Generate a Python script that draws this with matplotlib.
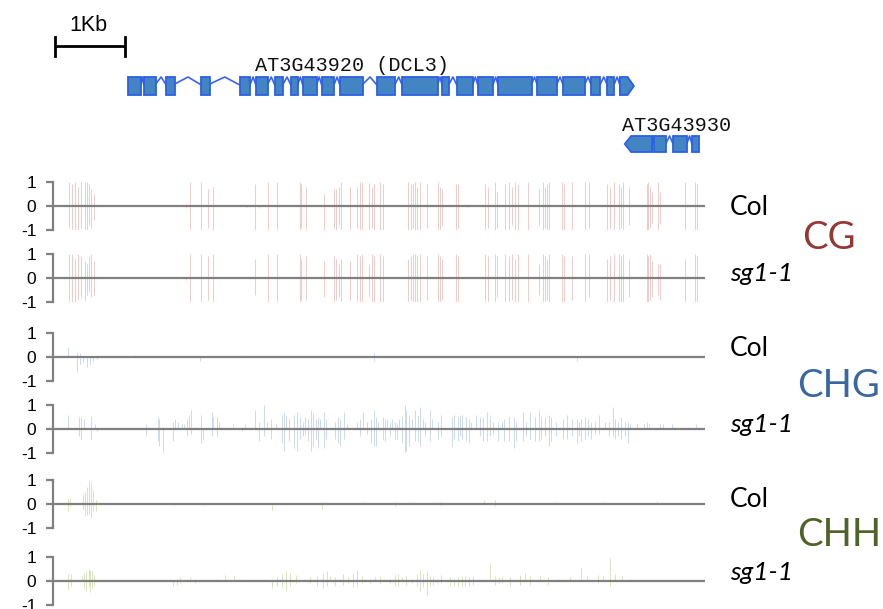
import matplotlib
matplotlib.use("Agg")
import matplotlib.pyplot as plt
from matplotlib.patches import Polygon

plt.rcParams["font.family"] = ["Liberation Sans", "DejaVu Sans"]

W, H = 883, 609
PX_PER_KB = 70.0

# ---- gene models (kb from left edge of the tracks) ----
DCL3_EXONS = [(1.04, 1.23), (1.27, 1.44), (1.59, 1.71), (2.09, 2.21), (2.64, 2.79),
              (2.87, 3.04), (3.14, 3.26), (3.37, 3.47), (3.54, 3.74), (3.81, 3.99),
              (4.07, 4.40), (4.60, 4.86), (4.96, 5.47), (5.53, 5.63), (5.74, 5.97),
              (6.04, 6.26), (6.33, 6.81), (6.89, 7.17), (7.26, 7.57), (7.66, 7.79),
              (7.89, 7.99), (8.07, 8.27)]
AT930_EXONS = [(8.14, 8.53), (8.56, 8.73), (8.83, 9.03), (9.10, 9.20)]

# ---- CG sites (kb) shared by both CG tracks ----
CG_SITES = [0.20, 0.24, 0.29, 0.33, 0.37, 0.43, 0.46, 0.49, 0.52, 0.55,
            0.98, 1.55,
            1.87, 1.93, 2.09, 2.18, 2.25,
            2.74, 2.86, 2.91, 3.04, 3.17,
            3.50, 3.52, 3.58, 3.84, 3.98, 4.01, 4.06, 4.08, 4.21, 4.32, 4.36, 4.39,
            4.49, 4.53, 4.56, 4.64, 4.68, 4.75,
            5.04, 5.08, 5.11, 5.14, 5.17, 5.22, 5.31, 5.47, 5.50, 5.53, 5.73, 5.76, 5.88,
            6.14, 6.18, 6.29, 6.32, 6.43, 6.49, 6.53, 6.57, 6.61, 6.75, 6.91, 6.97,
            7.00, 7.03, 7.06,
            7.24, 7.27, 7.39, 7.57, 7.63, 7.88, 7.93, 7.99, 8.05, 8.09, 8.11, 8.20,
            8.45, 8.47, 8.50, 8.53, 8.62, 8.64, 9.00, 9.14, 9.17]
CG_COL_UP = [1.0, 0.9, 1.0, 0.8, 1.0, 1.0, 1.0, 0.9, 0.7, 0.5,
             0.0, 0.0,
             0.1, 1.0, 1.0, 0.7, 0.8,
             0.05, 0.9, 0.0, 1.0, 1.0,
             1.0, 0.9, 0.8, 0.5, 0.7, 0.7, 0.8, 1.0, 0.8, 0.8, 1.0, 1.0,
             0.95, 0.8, 0.9, 1.0, 0.9, 0.05,
             1.0, 0.9, 0.9, 1.0, 0.8, 1.0, 0.9, 1.0, 0.8, 0.7, 0.9, 0.9, 0.05,
             0.9, 0.8, 1.0, 0.6, 0.9, 1.0, 0.8, 1.0, 0.9, 1.0, 0.7, 1.0,
             0.8, 0.9, 1.0,
             1.0, 0.9, 1.0, 1.0, 1.0, 0.9, 0.8, 1.0, 0.9, 0.8, 1.0, 0.8,
             0.9, 1.0, 0.8, 0.6, 1.0, 0.6, 1.0, 1.0, 0.9]
CG_COL_DOWN = [-0.9, -1.0, -1.0, -1.0, -0.9, -1.0, -1.0, -0.8, -0.9, -0.6,
               0.0, 0.0,
               -0.1, -1.0, -1.0, -0.9, -1.0,
               -0.05, -1.0, -0.1, -1.0, -1.0,
               -1.0, -0.9, -1.0, -1.0, -0.9, -1.0, -0.8, -1.0, -1.0, -0.9, -1.0, -1.0,
               -1.0, -0.9, -1.0, -1.0, -1.0, 0.0,
               -1.0, -1.0, -0.9, -1.0, -1.0, -1.0, -0.9, -1.0, -1.0, -0.8, -1.0, -0.9, -0.05,
               -1.0, -0.9, -1.0, -0.9, -1.0, -1.0, -0.8, -1.0, -1.0, -1.0, -0.8, -1.0,
               -0.9, -1.0, -1.0,
               -1.0, -1.0, -1.0, -1.0, -0.9, -1.0, -0.9, -1.0, -1.0, -0.9, -1.0, -0.8,
               -1.0, -1.0, -0.9, -0.7, -1.0, -0.7, -1.0, -1.0, -1.0]
CG_SG_UP = [1.0, 1.0, 0.8, 1.0, 0.9, 0.7, 0.6, 0.9, 1.0, 0.7,
            0.03, 0.05,
            0.0, 1.0, 1.0, 0.9, 1.0,
            0.0, 0.8, 0.0, 1.0, 1.0,
            1.0, 0.8, 0.9, 0.7, 0.9, 0.8, 0.6, 0.8, 0.7, 1.0, 0.9, 1.0,
            0.6, 1.0, 0.9, 1.0, 0.9, 0.0,
            0.8, 0.9, 1.0, 1.0, 0.9, 1.0, 0.9, 1.0, 0.9, 0.8, 1.0, 0.9, 0.0,
            1.0, 0.9, 1.0, 0.9, 1.0, 0.9, 1.0, 0.8, 1.0, 1.0, 0.6, 1.0,
            0.9, 0.8, 1.0,
            1.0, 0.9, 0.9, 1.0, 1.0, 0.8, 0.9, 1.0, 1.0, 0.9, 1.0, 0.8,
            1.0, 0.9, 1.0, 0.7, 0.6, 0.6, 0.8, 1.0, 0.9]
CG_SG_DOWN = [-1.0, -1.0, -1.0, -0.9, -0.8, -0.9, -0.7, -0.6, -0.8, -0.7,
              0.0, 0.0,
              -0.1, -1.0, -1.0, -0.9, -1.0,
              0.0, -0.7, 0.0, -1.0, -1.0,
              -1.0, -0.9, -0.9, -0.8, -1.0, -0.9, -0.8, -1.0, -0.9, -1.0, -1.0, -1.0,
              -0.8, -1.0, -1.0, -1.0, -1.0, 0.0,
              -1.0, -0.9, -1.0, -1.0, -1.0, -1.0, -0.9, -1.0, -1.0, -0.9, -1.0, -1.0, 0.0,
              -1.0, -1.0, -1.0, -0.8, -1.0, -1.0, -0.9, -1.0, -1.0, -1.0, -0.7, -1.0,
              -1.0, -0.9, -1.0,
              -1.0, -1.0, -0.9, -1.0, -0.8, -1.0, -0.9, -1.0, -1.0, -1.0, -1.0, -0.8,
              -1.0, -1.0, -0.9, -0.8, -0.7, -0.9, -1.0, -1.0, -1.0]

# ---- CHG ----
CHG_COL_POS = [0.19, 0.32, 0.36, 0.40, 0.46, 0.50, 0.54, 0.60, 0.81, 1.14, 1.18,
               2.07, 2.68, 3.97, 4.55, 6.57, 6.88, 7.45, 8.29]
CHG_COL_UP = [0.42, 0.2, 0.18, 0.0, 0.05, 0.0, 0.0, 0.0, 0.05, 0.1, 0.05,
              0.0, 0.08, 0.05, 0.15, 0.04, 0.06, 0.0, 0.06]
CHG_COL_DOWN = [0.0, -0.62, -0.28, -0.2, -0.42, -0.28, -0.17, -0.1, 0.0, 0.0, 0.0,
                -0.15, -0.05, 0.0, -0.15, 0.0, 0.0, -0.15, 0.0]

CHG_SG_POS = [0.19, 0.34, 0.37, 0.41, 0.52, 0.57, 0.60,
              1.30, 1.32, 1.47, 1.49, 1.54, 1.69, 1.72, 1.75, 1.81, 1.84, 1.88, 1.91,
              1.94, 2.02, 2.08, 2.11, 2.24, 2.26, 2.31, 2.34, 2.54, 2.67, 2.71, 2.86,
              2.91, 2.98, 3.03, 3.08, 3.16, 3.24, 3.27, 3.30, 3.34, 3.42, 3.46, 3.50,
              3.54, 3.57, 3.61, 3.66, 3.68, 3.73, 3.75, 3.78, 3.84, 3.87, 4.00, 4.04,
              4.07, 4.13, 4.17, 4.31, 4.35, 4.40, 4.45, 4.51, 4.55, 4.58, 4.61, 4.68,
              4.71, 4.74, 4.78, 4.82, 4.85, 4.89, 4.92, 4.96, 5.00, 5.02, 5.05, 5.10,
              5.14, 5.18, 5.21, 5.25, 5.28, 5.36, 5.39, 5.47, 5.52, 5.67, 5.70, 5.75,
              5.79, 5.82, 5.87, 5.91, 5.94, 6.02, 6.07, 6.12, 6.17, 6.22, 6.26, 6.33,
              6.38, 6.42, 6.49, 6.55, 6.59, 6.68, 6.73, 6.79, 6.85, 6.91, 6.94, 7.00,
              7.05, 7.09, 7.15, 7.26, 7.32, 7.39, 7.45, 7.48, 7.52, 7.57, 7.62, 7.66,
              7.72, 7.77, 7.86, 7.91, 7.97, 8.00, 8.04, 8.09, 8.14, 8.18, 8.22, 8.32,
              8.41, 8.46, 8.49, 8.64, 8.69, 8.82, 9.04, 9.16]
CHG_SG_UP = [0.6, 0.5, 0.5, 0.4, 0.5, 0.2, 0.0,
             0.2, 0.1, 0.5, 0.4, 0.1, 0.3, 0.4, 0.3, 0.2, 0.2, 0.4, 0.6,
             0.8, 0.1, 0.6, 0.0, 0.7, 0.5, 0.5, 0.3, 0.2, 0.1, 0.2, 0.8,
             0.3, 1.0, 0.3, 0.4, 0.2, 0.6, 0.7, 0.6, 0.4, 0.6, 0.7, 0.5,
             0.3, 0.5, 0.4, 0.8, 0.7, 0.4, 0.5, 0.4, 0.7, 0.4, 0.3, 0.5,
             0.4, 0.7, 0.2, 0.3, 0.4, 0.7, 0.3, 0.4, 0.8, 0.5, 0.3, 0.5,
             0.4, 0.4, 0.3, 0.4, 0.3, 0.2, 0.4, 0.5, 1.0, 0.8, 0.6, 0.4,
             0.8, 0.6, 0.9, 0.4, 0.3, 0.8, 0.4, 0.3, 0.6, 0.5, 0.6, 0.5,
             0.6, 0.6, 0.5, 0.4, 0.3, 0.6, 0.5, 0.5, 0.7, 0.6, 0.3, 0.3,
             0.3, 0.4, 0.5, 0.5, 0.3, 0.7, 0.3, 0.7, 0.5, 0.8, 0.5, 0.5,
             0.6, 0.5, 0.3, 0.4, 0.6, 0.4, 0.4, 0.3, 0.4, 0.5, 0.4, 0.3,
             0.3, 0.6, 0.3, 0.3, 0.9, 0.4, 0.3, 0.5, 0.3, 0.3, 0.2, 0.2,
             0.2, 0.3, 0.2, 0.2, 0.2, 0.2, 0.1, 0.2]
CHG_SG_DOWN = [0.0, -0.3, -0.4, 0.0, -0.4, 0.0, -0.1,
               -0.3, 0.0, -0.5, -0.7, -1.0, -0.5, 0.0, 0.0, 0.0, 0.0, -0.3, 0.0,
               -0.2, 0.0, -0.6, -0.4, -0.3, 0.0, -0.3, 0.0, 0.0, -0.1, 0.0, 0.0,
               -0.5, -0.3, 0.0, -0.4, 0.0, -0.6, -0.9, 0.0, -0.5, -0.8, -0.9, -0.4,
               -0.3, -0.2, -0.5, -0.9, -0.7, -0.4, -0.8, 0.0, -0.8, -0.4, -0.4, -0.6,
               -0.7, -0.4, 0.0, 0.0, -0.3, 0.0, -0.2, -0.6, -0.7, -0.7, 0.0, -0.4,
               -0.5, 0.0, -0.3, 0.0, -0.4, -0.4, 0.0, -0.6, -1.0, -0.9, -0.7, 0.0,
               -0.5, -0.5, -0.7, 0.0, -0.3, -0.5, 0.0, -0.4, -0.3, -0.7, -0.4, -0.5,
               -0.3, -0.4, -0.5, -0.6, 0.0, 0.0, -0.3, -0.5, -0.5, -0.3, -0.2, -0.5,
               0.0, -0.5, -0.5, -0.8, -0.5, -0.5, -0.3, -0.4, -0.5, -0.5, -0.4, -0.3,
               -0.7, -0.5, -0.3, -0.4, -0.4, -0.3, -0.6, -0.3, -0.5, -0.4, -0.3, -0.4,
               -0.2, -0.2, 0.0, -0.3, -0.3, -0.4, -0.3, -0.4, -0.3, -0.6, 0.0, 0.0,
               0.0, 0.0, 0.0, 0.0, 0.0, 0.0, 0.0, 0.0]

# ---- CHH ----
CHH_COL_POS = [0.19, 0.21, 0.40, 0.43, 0.46, 0.49, 0.51, 0.54, 0.58, 0.78, 0.97, 1.35,
               1.70, 1.88, 2.12, 2.76, 3.10, 3.81, 4.00, 4.40, 4.62, 4.85, 5.11, 5.40,
               5.50, 5.65, 5.80, 6.00, 6.13, 6.29, 6.52, 6.73, 7.02, 7.15, 7.52, 7.60,
               7.83, 7.95, 8.60]
CHH_COL_UP = [0.2, 0.25, 0.4, 0.5, 0.7, 1.0, 0.9, 0.6, 0.15, 0.05, 0.03, 0.03,
              0.06, 0.05, 0.05, 0.05, 0.0, 0.08, 0.05, 0.1, 0.06, 0.08, 0.1, 0.08,
              0.1, 0.05, 0.05, 0.06, 0.15, 0.18, 0.05, 0.06, 0.05, 0.07, 0.06, 0.05,
              0.1, 0.06, 0.12]
CHH_COL_DOWN = [-0.3, -0.1, -0.2, -0.5, -0.45, -0.4, -0.6, -0.3, -0.3, 0.0, 0.0, 0.0,
                -0.04, 0.0, -0.04, 0.0, -0.25, -0.2, 0.0, 0.0, 0.0, -0.1, 0.0, 0.0,
                -0.05, 0.0, 0.0, 0.0, 0.0, -0.1, 0.0, 0.0, 0.0, 0.0, 0.0, 0.0,
                0.0, 0.0, 0.0]

CHH_SG_POS = [0.19, 0.23, 0.38, 0.41, 0.44, 0.48, 0.50, 0.53, 0.56,
              1.69, 1.74, 1.79, 1.86, 1.93, 2.00, 2.31, 2.43, 2.55, 2.67, 2.98,
              3.10, 3.17, 3.24, 3.30, 3.36, 3.44, 3.55, 3.64, 3.74, 3.83, 3.88, 3.93,
              4.00, 4.05, 4.12, 4.19, 4.26, 4.32, 4.38, 4.43, 4.50, 4.57, 4.64, 4.70,
              4.78, 4.85, 4.90, 4.96, 5.02, 5.10, 5.17, 5.22, 5.26, 5.31, 5.36, 5.40,
              5.45, 5.52, 5.64, 5.70, 5.76, 5.81, 5.86, 5.92, 5.97, 6.21, 6.29, 6.34,
              6.39, 6.50, 6.64, 6.71, 6.79, 6.93, 7.04, 7.19, 7.36, 7.52, 7.60, 7.76,
              7.83, 7.93, 8.00, 8.10, 8.21, 8.40, 8.81]
CHH_SG_UP = [0.3, 0.3, 0.25, 0.35, 0.4, 0.5, 0.45, 0.4, 0.25,
             0.05, 0.1, 0.15, 0.1, 0.15, 0.1, 0.1, 0.25, 0.2, 0.1, 0.1,
             0.1, 0.15, 0.3, 0.4, 0.35, 0.25, 0.1, 0.15, 0.2, 0.35, 0.4, 0.2,
             0.15, 0.1, 0.3, 0.15, 0.35, 0.45, 0.2, 0.1, 0.1, 0.15, 0.2, 0.1,
             0.1, 0.25, 0.3, 0.15, 0.2, 0.1, 0.3, 0.45, 0.3, 0.4, 0.2, 0.15,
             0.1, 0.25, 0.15, 0.1, 0.15, 0.2, 0.2, 0.15, 0.2, 0.7, 0.2, 0.15,
             0.2, 0.15, 0.25, 0.35, 0.2, 0.2, 0.15, 0.1, 0.15, 0.55, 0.2, 0.25,
             0.2, 0.97, 0.3, 0.2, 0.1, 0.05, 0.05]
CHH_SG_DOWN = [-0.35, -0.2, 0.0, -0.3, -0.4, -0.2, -0.45, -0.3, -0.15,
               -0.2, -0.15, -0.1, 0.0, 0.0, -0.1, 0.0, 0.0, 0.0, 0.0, 0.0,
               -0.3, -0.2, -0.25, -0.4, -0.2, -0.1, 0.0, -0.1, -0.2, -0.3, -0.2, 0.0,
               -0.2, 0.0, -0.15, -0.1, -0.25, -0.2, -0.1, 0.0, -0.1, 0.0, -0.1, 0.0,
               -0.1, -0.2, -0.2, 0.0, -0.15, -0.1, -0.2, -0.4, -0.25, -0.6, -0.2, -0.15,
               -0.1, -0.1, -0.2, -0.15, -0.2, -0.2, -0.2, -0.2, -0.15, 0.0, -0.15, -0.1,
               -0.1, -0.2, -0.15, 0.0, -0.15, 0.0, -0.15, 0.0, 0.0, 0.0, 0.0, -0.1,
               0.0, -0.2, 0.0, 0.0, 0.0, 0.0, 0.0]

CONTEXT_COLORS = {"CG": "#c0504d", "CHG": "#4f81bd", "CHH": "#9bbb59"}
CONTEXT_ALPHA = {"CG": 0.28, "CHG": 0.28, "CHH": 0.38}
LABEL_COLORS = {"CG": "#953735", "CHG": "#3a67a0", "CHH": "#4f6228"}

TRACKS = [
    ("CG", CG_SITES, CG_COL_UP, CG_COL_DOWN, 206),
    ("CG", CG_SITES, CG_SG_UP, CG_SG_DOWN, 278),
    ("CHG", CHG_COL_POS, CHG_COL_UP, CHG_COL_DOWN, 357),
    ("CHG", CHG_SG_POS, CHG_SG_UP, CHG_SG_DOWN, 429),
    ("CHH", CHH_COL_POS, CHH_COL_UP, CHH_COL_DOWN, 504),
    ("CHH", CHH_SG_POS, CHH_SG_UP, CHH_SG_DOWN, 581),
]
TRACK_HALF = 24
TRACK_X0, TRACK_X1 = 53, 705
KB0_PX = 55

fig = plt.figure(figsize=(W / 100, H / 100), dpi=100)


def px_axes(x0, y0, x1, y1):
    return fig.add_axes([x0 / W, 1 - y1 / H, (x1 - x0) / W, (y1 - y0) / H])


xlim = ((TRACK_X0 - KB0_PX) / PX_PER_KB, (TRACK_X1 - KB0_PX) / PX_PER_KB)

# ---- gene track ----
gax = px_axes(TRACK_X0, 0, TRACK_X1, 160)
gax.set_xlim(*xlim)
gax.set_ylim(160, 0)
gax.axis("off")

# scale bar
gax.plot([0, 1], [46, 46], color="black", lw=2, solid_capstyle="butt")
gax.plot([0, 0], [37, 56], color="black", lw=2)
gax.plot([1, 1], [37, 56], color="black", lw=2)
gax.text(0.48, 31, "1Kb", ha="center", va="baseline", fontsize=15.5)

EXON_FACE, EXON_EDGE, INTRON_C = "#4285c2", "#2b5fe6", "#3a62f0"


def draw_gene(exons, top, height, strand):
    mid = top + height / 2
    tip = 0.09
    for i, (s, e) in enumerate(exons):
        if strand == "+" and i == len(exons) - 1:
            pts = [(s, top), (e - tip, top), (e, mid), (e - tip, top + height), (s, top + height)]
        elif strand == "-" and i == 0:
            pts = [(s, mid), (s + tip, top), (e, top), (e, top + height), (s + tip, top + height)]
        else:
            pts = [(s, top), (e, top), (e, top + height), (s, top + height)]
        gax.add_patch(Polygon(pts, closed=True, facecolor=EXON_FACE, edgecolor=EXON_EDGE,
                              lw=1.3, clip_on=False, zorder=3))
    for (s0, e0), (s1, e1) in zip(exons[:-1], exons[1:]):
        gax.plot([e0, (e0 + s1) / 2, s1], [top + 7, top, top + 8], color=INTRON_C,
                 lw=1.2, clip_on=False, zorder=2)


draw_gene(DCL3_EXONS, 77, 18, "+")
draw_gene(AT930_EXONS, 136, 16, "-")
gax.text((255 - KB0_PX) / PX_PER_KB, 71, "AT3G43920 (DCL3)", family="Liberation Mono",
         fontsize=14.5, va="baseline", ha="left", color="#111111")
gax.text((622 - KB0_PX) / PX_PER_KB, 131, "AT3G43930", family="Liberation Mono",
         fontsize=14.5, va="baseline", ha="left", color="#111111")

# ---- methylation tracks ----
for ctx, pos, up, down, zero_y in TRACKS:
    ax = px_axes(TRACK_X0, zero_y - TRACK_HALF, TRACK_X1, zero_y + TRACK_HALF)
    ax.set_xlim(*xlim)
    ax.set_ylim(-1, 1)
    ax.vlines(pos, 0, up, colors=CONTEXT_COLORS[ctx], lw=0.75, alpha=CONTEXT_ALPHA[ctx])
    ax.vlines(pos, down, 0, colors=CONTEXT_COLORS[ctx], lw=0.75, alpha=CONTEXT_ALPHA[ctx])
    ax.axhline(0, color="#808080", lw=1.6, zorder=3)
    for side in ("top", "right", "bottom"):
        ax.spines[side].set_visible(False)
    ax.spines["left"].set_color("#808080")
    ax.spines["left"].set_linewidth(1.6)
    ax.set_xticks([])
    ax.set_yticks([-1, 0, 1])
    ax.set_yticklabels(["-1", "0", "1"])
    ax.tick_params(axis="y", length=5, width=1.6, color="#808080", labelsize=12.5,
                   pad=7)
    ax.patch.set_alpha(0)

# ---- right-hand labels ----
LABEL_FONT = ["Lato", "DejaVu Sans"]
SAMPLE_BASELINES = [(215, "Col", "normal"), (281, "sg1-1", "italic"),
                    (356, "Col", "normal"), (432, "sg1-1", "italic"),
                    (507, "Col", "normal"), (580, "sg1-1", "italic")]
for y, txt, style in SAMPLE_BASELINES:
    fig.text(730 / W, 1 - y / H, txt, family=LABEL_FONT, fontsize=19, style=style,
             va="baseline", ha="left")

CONTEXT_LABELS = [("CG", 802, 249), ("CHG", 797, 397), ("CHH", 797, 546)]
for txt, x, y in CONTEXT_LABELS:
    fig.text(x / W, 1 - y / H, txt, family=LABEL_FONT, fontsize=27.5,
             color=LABEL_COLORS[txt], va="baseline", ha="left")

fig.savefig("out.png", dpi=100)
